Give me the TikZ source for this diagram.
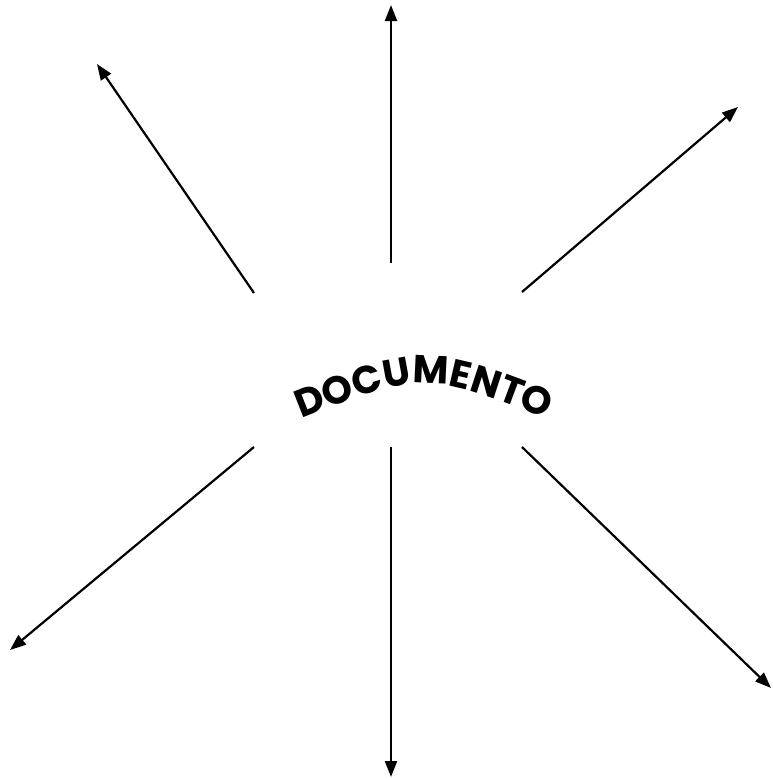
\documentclass[tikz,border=0pt]{standalone}
\usepackage{fontspec}
\setmainfont{Poppins}
\usetikzlibrary{arrows.meta,decorations.text}
\tikzset{
  ray/.style={line width=2.2pt,-{Triangle[length=16pt,width=12pt]}},
}
\begin{document}
\begin{tikzpicture}[x=1pt,y=-1pt]
\useasboundingbox (0,0) rectangle (772,780);
% start points near centre
\coordinate (s1) at (254,293);
\coordinate (s2) at (391,263);
\coordinate (s3) at (522,292);
\coordinate (s4) at (254,447);
\coordinate (s5) at (391,447);
\coordinate (s6) at (522,447);
% ends
\coordinate (e1) at (97,64);
\coordinate (e2) at (391,5);
\coordinate (e3) at (738,107);
\coordinate (e4) at (10,650);
\coordinate (e5) at (391,777);
\coordinate (e6) at (771,688);
\foreach \i in {1,...,6} {\draw[ray] (s\i) -- (e\i);}
% curved title
\path[decorate,decoration={text along path,text align=center,
  text={|\fontsize{39}{39}\selectfont\bfseries|DOCUMENTO}}]
  (288,424) .. controls (424,370) .. (560,424);
\end{tikzpicture}
\end{document}
